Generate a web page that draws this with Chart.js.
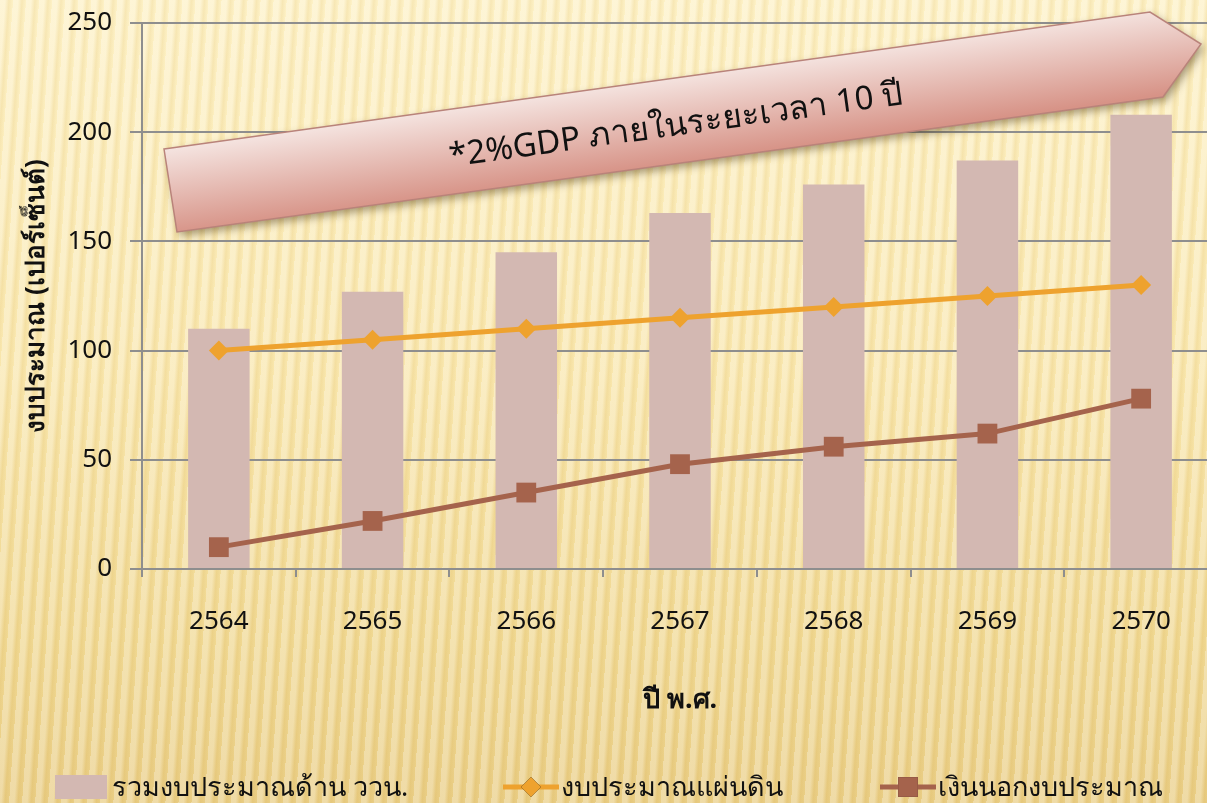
<!DOCTYPE html>
<html>
<head>
<meta charset="utf-8">
<script src="https://cdn.jsdelivr.net/npm/chart.js@4.4.0/dist/chart.umd.min.js"></script>
<style>
  html, body { margin: 0; padding: 0; width: 1207px; height: 803px; overflow: hidden; }
  body {
    background:
      repeating-linear-gradient(94deg, rgba(255,255,255,0.28) 0px, rgba(255,255,255,0.28) 5px, rgba(205,160,60,0.12) 9px, rgba(255,255,255,0) 13px),
      linear-gradient(180deg, #fdf1c6 0%, #f9e7ae 45%, #f0d892 80%, #e9cd84 100%);
  }
  #wrap { position: relative; width: 1207px; height: 803px; overflow: hidden; }
  canvas { position: absolute; left: 0; top: 0; }
</style>
</head>
<body>
<div id="wrap"><canvas id="chart" width="1232" height="803"></canvas></div>
<script>
const years = ['2564', '2565', '2566', '2567', '2568', '2569', '2570'];
const totalBudget = [110, 127, 145, 163, 176, 187, 208];
const stateBudget = [100, 105, 110, 115, 120, 125, 130];
const offBudget = [10, 22, 35, 48, 56, 62, 78];
const seriesNames = ['รวมงบประมาณด้าน ววน.', 'งบประมาณแผ่นดิน', 'เงินนอกงบประมาณ'];
const noteText = '*2%GDP ภายในระยะเวลา 10 ปี';

const FONT = "Tahoma, 'Noto Sans', sans-serif";
const GRID = '#8e8e8e';

// the slanted pink arrow with the note
const arrowNote = {
  id: 'arrowNote',
  afterDraw(chart) {
    const ctx = chart.ctx;
    ctx.save();
    ctx.beginPath();
    ctx.moveTo(164, 149);
    ctx.lineTo(1150, 12);
    ctx.lineTo(1201, 44);
    ctx.lineTo(1163, 97);
    ctx.lineTo(177, 232);
    ctx.closePath();
    const g = ctx.createLinearGradient(670, 79, 682, 163);
    g.addColorStop(0, '#f4e2de');
    g.addColorStop(1, '#d79387');
    ctx.shadowColor = 'rgba(60,40,0,0.45)';
    ctx.shadowBlur = 8;
    ctx.shadowOffsetX = 3;
    ctx.shadowOffsetY = 4;
    ctx.fillStyle = g;
    ctx.fill();
    ctx.shadowColor = 'transparent';
    ctx.strokeStyle = '#b9837a';
    ctx.lineWidth = 1.5;
    ctx.stroke();

    ctx.translate(676, 126);
    ctx.rotate(Math.atan2(-137, 986));
    ctx.font = '33px ' + FONT;
    ctx.fillStyle = '#111';
    ctx.textAlign = 'center';
    ctx.textBaseline = 'middle';
    ctx.fillText(noteText, 0, 0);
    ctx.restore();
  }
};

// legend at the bottom, drawn like the original (line + marker)
const bottomLegend = {
  id: 'bottomLegend',
  afterDraw(chart) {
    const ctx = chart.ctx;
    const y = 787;
    const spots = [55, 503, 880];
    ctx.save();
    ctx.font = '27px ' + FONT;
    ctx.textBaseline = 'middle';
    chart.data.datasets.forEach((ds, i) => {
      const x = spots[i];
      let tx;
      if (ds.type === 'line') {
        ctx.strokeStyle = ds.borderColor;
        ctx.lineWidth = ds.borderWidth;
        ctx.beginPath();
        ctx.moveTo(x, y);
        ctx.lineTo(x + 56, y);
        ctx.stroke();
        Chart.helpers.drawPoint(ctx, {
          pointStyle: ds.pointStyle,
          radius: ds.pointRadius,
          borderWidth: 0
        }, x + 28, y);
        ctx.fillStyle = ds.backgroundColor;
        ctx.fill();
        tx = x + 58;
      } else {
        ctx.fillStyle = ds.backgroundColor;
        ctx.fillRect(x, y - 12, 52, 24);
        tx = x + 57;
      }
      ctx.fillStyle = '#111';
      ctx.fillText(ds.label, tx, y + 1);
    });
    ctx.restore();
  }
};

new Chart(document.getElementById('chart'), {
  type: 'bar',
  data: {
    labels: years,
    datasets: [
      {
        type: 'bar',
        label: seriesNames[0],
        data: totalBudget,
        backgroundColor: '#d3b8b2',
        categoryPercentage: 1,
        barPercentage: 0.4,
        order: 2
      },
      {
        type: 'line',
        label: seriesNames[1],
        data: stateBudget,
        borderColor: '#eea22e',
        backgroundColor: '#eea22e',
        borderWidth: 5,
        pointStyle: 'rectRot',
        pointRadius: 10,
        pointBorderWidth: 0,
        order: 1
      },
      {
        type: 'line',
        label: seriesNames[2],
        data: offBudget,
        borderColor: '#a5634c',
        backgroundColor: '#a5634c',
        borderWidth: 5,
        pointStyle: 'rect',
        pointRadius: 14,
        pointBorderWidth: 0,
        order: 1
      }
    ]
  },
  options: {
    responsive: false,
    animation: false,
    layout: { padding: { top: 23, left: 0, right: 10, bottom: 86 } },
    plugins: {
      legend: { display: false },
      tooltip: { enabled: false }
    },
    scales: {
      x: {
        offset: true,
        grid: { drawOnChartArea: false, drawTicks: true, tickLength: 8, offset: true, color: GRID, lineWidth: 2 },
        border: { display: true, color: GRID, width: 2 },
        ticks: { color: '#111', font: { family: FONT, size: 26 }, padding: 29 },
        title: {
          display: true,
          text: 'ปี พ.ศ.',
          color: '#111',
          font: { family: FONT, size: 27, weight: 'bold' },
          padding: { top: 0, bottom: 0 }
        },
        afterFit(scale) { scale.height = 148; }
      },
      y: {
        min: 0,
        max: 250,
        ticks: { stepSize: 50, color: '#111', font: { family: FONT, size: 26 }, padding: 18 },
        grid: { color: GRID, lineWidth: 2, tickLength: 12 },
        border: { display: true, color: GRID, width: 2 },
        title: {
          display: true,
          text: 'งบประมาณ (เปอร์เซ็นต์)',
          color: '#111',
          font: { family: FONT, size: 26, weight: 'bold' },
          padding: { top: 21, bottom: 0 }
        },
        afterFit(scale) {
          scale.width = 142;
          scale.paddingTop = 0;
          scale.paddingBottom = 0;
        }
      }
    }
  },
  plugins: [arrowNote, bottomLegend]
});
</script>
</body>
</html>
